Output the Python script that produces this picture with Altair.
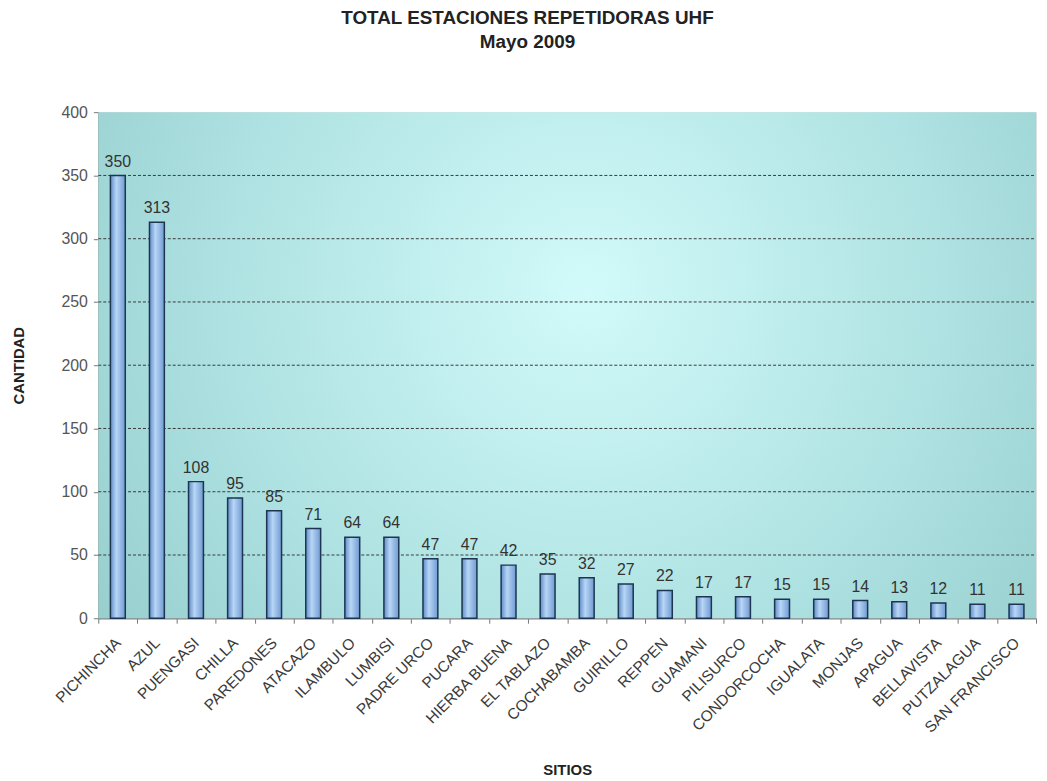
import altair as alt
import pandas as pd

sitios = ["PICHINCHA", "AZUL", "PUENGASI", "CHILLA", "PAREDONES", "ATACAZO",
          "ILAMBULO", "LUMBISI", "PADRE URCO", "PUCARA", "HIERBA BUENA",
          "EL TABLAZO", "COCHABAMBA", "GUIRILLO", "REPPEN", "GUAMANI",
          "PILISURCO", "CONDORCOCHA", "IGUALATA", "MONJAS", "APAGUA",
          "BELLAVISTA", "PUTZALAGUA", "SAN FRANCISCO"]
cantidad = [350, 313, 108, 95, 85, 71, 64, 64, 47, 47, 42, 35, 32, 27, 22,
            17, 17, 15, 15, 14, 13, 12, 11, 11]
y_ticks = [0, 50, 100, 150, 200, 250, 300, 350, 400]
grid_vals = [50, 100, 150, 200, 250, 300, 350]

W, H = 945, 510

df = pd.DataFrame({"sitio": sitios, "cantidad": cantidad})
bg_df = pd.DataFrame({"k": [0]})
grid_df = pd.DataFrame({"g": grid_vals})

bg = alt.Chart(bg_df).mark_rect(
    fill=alt.RadialGradient(
        gradient="radial", x1=0.52, y1=0.42, r1=0.0, x2=0.52, y2=0.42, r2=0.75,
        stops=[alt.GradientStop(offset=0, color="#d2fafa"),
               alt.GradientStop(offset=0.55, color="#ace0e0"),
               alt.GradientStop(offset=1, color="#8cc4c4")]),
).encode(x=alt.value(0), x2=alt.value(W), y=alt.value(0), y2=alt.value(H))

grid = alt.Chart(grid_df).mark_rule(
    color="#3a3a3a", strokeWidth=1, strokeDash=[3, 2]
).encode(y=alt.Y("g:Q", scale=alt.Scale(domain=[0, 400], nice=False)),
         x=alt.value(0), x2=alt.value(W))

xenc = alt.X("sitio:N", sort=sitios, title="SITIOS",
             scale=alt.Scale(paddingInner=0, paddingOuter=0),
             axis=alt.Axis(labelAngle=-45, labelAlign="right", labelBaseline="top",
                           labelFontSize=15.5, labelColor="#3a3a3a", labelFont="Liberation Sans",
                           labelPadding=12, labelOffset=-5, tickBand="extent", tickSize=5,
                           tickColor="#777777", domainColor="#888888", domainWidth=1.5,
                           titleFont="Liberation Sans", titleFontSize=15, titleFontWeight="bold",
                           titleColor="#222222", titleY=152, titleBaseline="middle"))
yenc = alt.Y("cantidad:Q", title="CANTIDAD",
             scale=alt.Scale(domain=[0, 400], nice=False),
             axis=alt.Axis(values=y_ticks, labelFontSize=16, labelColor="#555555",
                           labelFont="Liberation Sans", labelPadding=6,
                           tickSize=5, tickColor="#777777", domainColor="#888888",
                           domainWidth=1.5, grid=False,
                           titleFont="Liberation Sans", titleFontSize=15, titleFontWeight="bold",
                           titleColor="#222222", titleX=-80, titleY=H / 2, titleAngle=-90,
                           titleAlign="center", titleBaseline="middle"))

bars = alt.Chart(df).mark_bar(
    size=15, stroke="#1d3550", strokeWidth=1.5,
    fill=alt.LinearGradient(
        gradient="linear", x1=0, y1=0, x2=1, y2=0,
        stops=[alt.GradientStop(offset=0, color="#5f8cc8"),
               alt.GradientStop(offset=0.4, color="#b8d6f6"),
               alt.GradientStop(offset=1, color="#6f9ad2")]),
).encode(x=xenc, y=yenc)

labels = alt.Chart(df).mark_text(
    baseline="bottom", dy=-6, fontSize=16, color="#333333", font="Liberation Sans"
).encode(x=alt.X("sitio:N", sort=sitios), y=alt.Y("cantidad:Q"), text="cantidad:Q")

chart = alt.layer(bg, grid, bars, labels).properties(
    width=W, height=H,
    autosize="none",
    padding={"left": 91, "top": 102, "right": 3, "bottom": 160},
    title=alt.TitleParams(
        text=["TOTAL ESTACIONES REPETIDORAS UHF", "Mayo 2009"],
        anchor="middle", frame="group", dx=-40, offset=53,
        font="Liberation Sans", fontSize=19, fontWeight="bold", color="#222222",
        lineHeight=24),
).configure_view(stroke="#999999", strokeWidth=1).configure(background="white")

chart.save("out.html", embed_options={"renderer": "svg", "actions": False})
